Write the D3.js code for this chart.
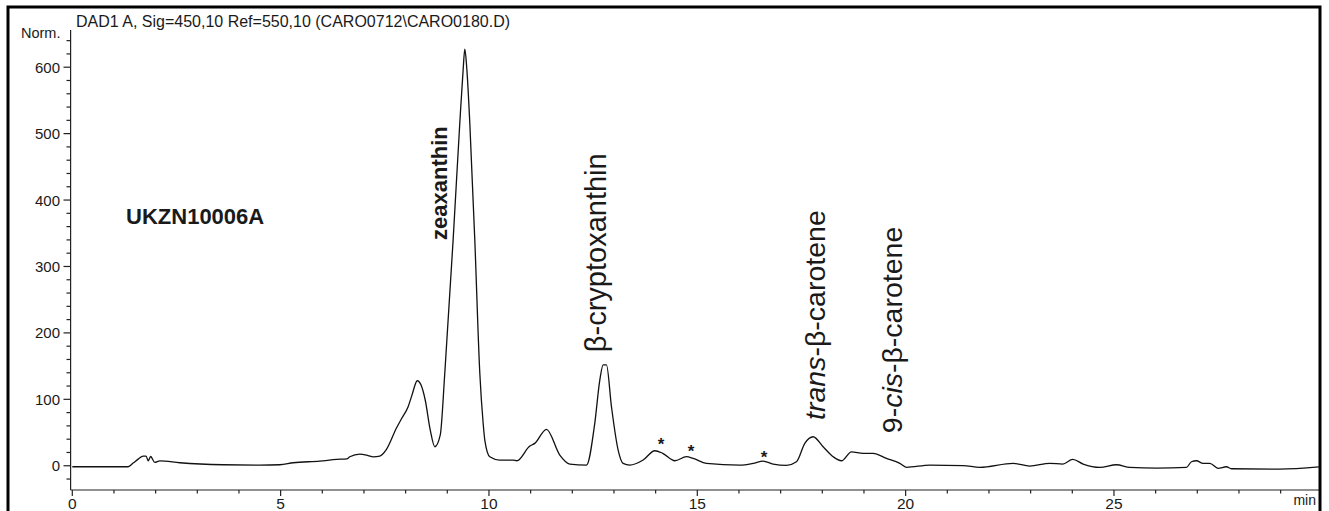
<!DOCTYPE html>
<meta charset="utf-8">
<html>
<head>
<title>Chromatogram</title>
<style>
  body { margin: 0; background: #fff; }
  svg { display: block; }
  text { font-family: "Liberation Sans", Arial, Helvetica, sans-serif; fill: #1a1a1a; }
  .axis path, .axis line { stroke: #222; stroke-width: 1.2px; }
</style>
</head>
<body>
<script src="https://cdn.jsdelivr.net/npm/d3@7/dist/d3.min.js"></script>
<script>

// retention time (min) and detector response (Norm.)
var times = [0, 1.34, 1.46, 1.58, 1.70, 1.77, 1.82, 1.88, 1.98, 2.10, 2.58, 3.62, 4.50, 4.98,
  5.30, 5.94, 6.35, 6.59, 6.66, 6.90, 7.10, 7.22, 7.38, 7.54, 7.78, 7.91, 8.06, 8.15, 8.28,
  8.37, 8.47, 8.59, 8.70, 8.83, 8.94, 9.14, 9.30, 9.38, 9.42, 9.47, 9.54, 9.66, 9.78, 9.86,
  9.90, 10.02, 10.26, 10.58, 10.67, 10.98, 11.10, 11.38, 11.70, 11.94, 12.34, 12.54, 12.66,
  12.74, 12.82, 12.94, 13.10, 13.22, 13.38, 13.70, 13.98, 14.17, 14.46, 14.74, 14.90, 15.22,
  16.02, 16.34, 16.58, 16.82, 17.14, 17.38, 17.58, 17.78, 18.02, 18.26, 18.46, 18.70, 18.98,
  19.22, 19.54, 19.86, 20.02, 20.58, 21.38, 21.78, 22.58, 22.98, 23.46, 23.77, 24.01, 24.26,
  24.66, 25.06, 25.38, 26.02, 26.74, 26.86, 26.98, 27.14, 27.30, 27.50, 27.70, 27.82, 28.98, 29.94];

var values = [-1.5, -1.5, 4, 10, 14.6, 14.6, 7.5, 13.9, 5, 7.4, 4.5, 1.5, 1, 1.5,
  4.5, 7, 9.6, 10.5, 13.5, 17.6, 15.4, 13.5, 14.6, 24.7, 56.8, 71.8, 88.9, 106, 128,
  121.5, 99, 54, 28.6, 46, 139.6, 340, 516, 596, 627, 596, 516, 340, 139.6, 64.3,
  38.7, 13.6, 8.6, 8.6, 7.5, 29.7, 33.7, 54.8, 16, 2.5, 1, 64.3, 129,
  152, 152, 88.9, 23.6, 3.6, 1, 8.6, 22.6, 18.7, 7.5, 13.6, 11.1, 3.6,
  1, 3.6, 7, 2.5, 0.6, 6, 33.7, 43.7, 28.6, 13.6, 7.5, 21, 18.7,
  18.7, 11.1, 3.6, -2.4, 1, 0.3, -2.4, 3.6, -0.5, 3.6, 2.6, 9.6, 2.6,
  -2.4, 1.5, -2.4, -3.5, -2.4, 6, 7.5, 3.6, 3.6, -3.9, -1.5, -4.5, -5, -1.5];

var xTickValues = [0, 5, 10, 15, 20, 25];
var yTickValues = [0, 100, 200, 300, 400, 500, 600];

// peak labels: name, anchor time, anchor response
var peakNames = ["zeaxanthin", "β-cryptoxanthin", "trans-β-carotene", "9-cis-β-carotene"];
var peakTimes = [8.99, 12.81, 18.06, 19.91];
var peakLevels = [340, 171, 69, 49];

// unidentified peaks marked with *
var starTimes = [14.13, 14.85, 16.60];
var starLevels = [37, 27, 17];

var sampleName = "UKZN10006A";
var signalTitle = "DAD1 A, Sig=450,10 Ref=550,10 (CARO0712\\CARO0180.D)";

var width = 1329,
    height = 511;

var svg = d3.select("body").append("svg")
    .attr("width", width)
    .attr("height", height);

var x = d3.scaleLinear().domain([0, 30]).range([72.3, 1322.3]);
var y = d3.scaleLinear().domain([-36.5, 656]).range([490, 30]);

// outer frame
svg.append("rect")
    .attr("x", 8).attr("y", 7)
    .attr("width", 1312).attr("height", 520)
    .attr("fill", "none")
    .attr("stroke", "#000")
    .attr("stroke-width", 3);

svg.append("clipPath").attr("id", "plotclip")
  .append("rect").attr("x", 60).attr("y", 0).attr("width", 1259).attr("height", 500);

// x axis
var xMinor = d3.range(0, 30, 1);
var xAxis = svg.append("g").attr("class", "axis").attr("clip-path", "url(#plotclip)");
xAxis.append("line")
    .attr("x1", 70.6).attr("x2", 1320)
    .attr("y1", 490).attr("y2", 490);
xAxis.selectAll(".xminor").data(xMinor).enter().append("line")
    .attr("x1", function(d) { return x(d); })
    .attr("x2", function(d) { return x(d); })
    .attr("y1", 490)
    .attr("y2", function(d) { return d % 5 == 0 ? 496 : 493.5; });
svg.selectAll(".xlab").data(xTickValues).enter().append("text")
    .attr("x", function(d) { return x(d); })
    .attr("y", 509)
    .attr("text-anchor", "middle")
    .style("font-size", "15.5px")
    .text(function(d) { return d; });
svg.append("text")
    .attr("x", 1316).attr("y", 505)
    .attr("text-anchor", "end")
    .style("font-size", "14px")
    .text("min");

// y axis
var yMinor = d3.range(-20, 641, 20);
var yAxis = svg.append("g").attr("class", "axis");
yAxis.append("line")
    .attr("x1", 70.6).attr("x2", 70.6)
    .attr("y1", 30).attr("y2", 490);
yAxis.selectAll(".yminor").data(yMinor).enter().append("line")
    .attr("x1", function(d) { return d % 100 == 0 ? 63.5 : 66.5; })
    .attr("x2", 70.6)
    .attr("y1", function(d) { return y(d); })
    .attr("y2", function(d) { return y(d); });
svg.selectAll(".ylab").data(yTickValues).enter().append("text")
    .attr("x", 60)
    .attr("y", function(d) { return y(d) + 5.5; })
    .attr("text-anchor", "end")
    .style("font-size", "15px")
    .text(function(d) { return d; });
svg.append("text")
    .attr("x", 21).attr("y", 38)
    .style("font-size", "14.5px")
    .text("Norm.");

svg.append("text")
    .attr("x", 76).attr("y", 27)
    .style("font-size", "16px")
    .text(signalTitle);

// trace
var line = d3.line()
    .x(function(d) { return x(d[0]); })
    .y(function(d) { return y(d[1]); })
    .curve(d3.curveMonotoneX);

svg.append("path")
    .datum(d3.zip(times, values))
    .attr("clip-path", "url(#plotclip)")
    .attr("fill", "none")
    .attr("stroke", "#111")
    .attr("stroke-width", 1.3)
    .attr("d", line);

// sample name
svg.append("text")
    .attr("x", x(1.29)).attr("y", y(364))
    .style("font-size", "22px")
    .style("font-weight", "bold")
    .text(sampleName);

// peak labels, rotated
var labelSizes = ["22px", "29px", "28.5px", "28.5px"];
var labels = svg.selectAll(".peak").data(peakNames).enter().append("text")
    .attr("transform", function(d, i) {
        return "translate(" + x(peakTimes[i]) + "," + y(peakLevels[i]) + ") rotate(-90)";
    })
    .style("font-size", function(d, i) { return labelSizes[i]; })
    .style("font-weight", function(d, i) { return i == 0 ? "bold" : "normal"; });

labels.each(function(d) {
    var t = d3.select(this);
    if (d.indexOf("trans-") == 0) {
        t.append("tspan").style("font-style", "italic").text("trans");
        t.append("tspan").text(d.slice(5));
    } else if (d.indexOf("9-cis-") == 0) {
        t.append("tspan").text("9-");
        t.append("tspan").style("font-style", "italic").text("cis");
        t.append("tspan").text(d.slice(5));
    } else {
        t.text(d);
    }
});

svg.selectAll(".star").data(starTimes).enter().append("text")
    .attr("x", function(d) { return x(d); })
    .attr("y", function(d, i) { return y(starLevels[i]) + 9; })
    .attr("text-anchor", "middle")
    .style("font-size", "17px")
    .style("font-weight", "bold")
    .text("*");

</script>
</body>
</html>
